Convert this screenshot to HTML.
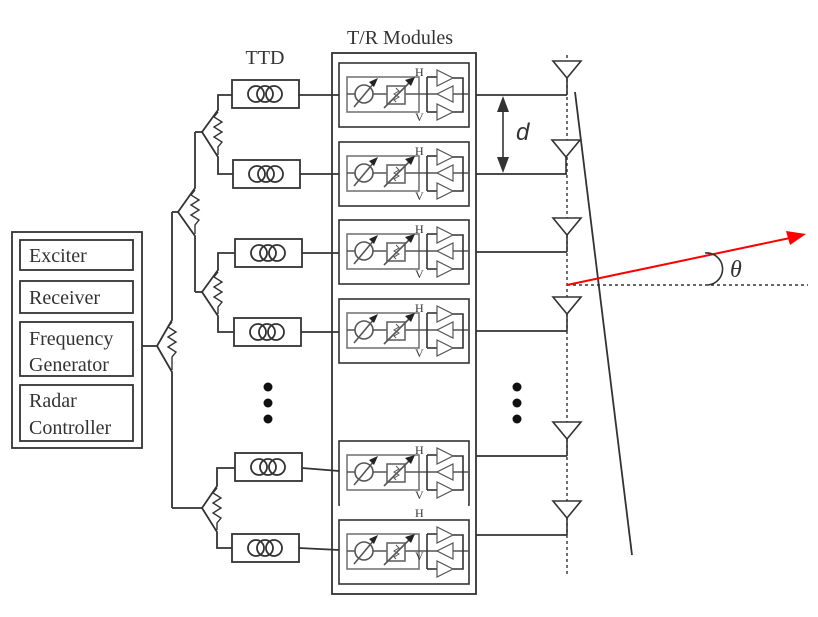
<!DOCTYPE html>
<html><head><meta charset="utf-8"><style>
html,body{margin:0;padding:0;background:#fff;}
svg{display:block;}
text{font-family:"Liberation Serif",serif;fill:#333;}
</style></head><body>
<svg width="818" height="617" viewBox="0 0 818 617" xmlns="http://www.w3.org/2000/svg">
<defs>
<g id="mod" fill="none" stroke="#333" stroke-width="1.6">
  <rect x="0" y="0" width="130" height="64"/>
  <rect x="8" y="14" width="72" height="35" stroke="#777"/>
  <line x1="8" y1="31" x2="130" y2="31" stroke="#555"/>
  <circle cx="25" cy="31" r="9" fill="#fff" stroke="#555"/>
  <line x1="15" y1="44" x2="35" y2="20" stroke="#555"/>
  <polygon points="39,15 30,19 35,24" fill="#222" stroke="none"/>
  <rect x="48" y="23" width="18" height="18" fill="#fff" stroke="#666"/>
  <polyline points="57,25 60,28 55,31 60,34 55,37 57,39" stroke="#555" stroke-width="1"/>
  <line x1="45" y1="45" x2="71" y2="19" stroke="#555"/>
  <polygon points="76,14 66,17 72,23" fill="#222" stroke="none"/>
  <line x1="88" y1="14" x2="88" y2="49"/>
  <line x1="88" y1="14" x2="98" y2="14"/>
  <line x1="88" y1="49" x2="98" y2="49"/>
  <polygon points="98,7 98,23 114,15" fill="#fff" stroke="#555" stroke-width="1.2"/>
  <polygon points="114,23 114,39 98,31" fill="#fff" stroke="#555" stroke-width="1.2"/>
  <polygon points="98,41 98,57 114,49" fill="#fff" stroke="#555" stroke-width="1.2"/>
  <polyline points="114,15 124,15 124,49 114,49"/>
</g>
<g id="ttd" fill="none" stroke="#333" stroke-width="1.8">
  <rect x="0" y="-14" width="67" height="28"/>
  <circle cx="24" cy="0" r="8"/>
  <circle cx="33" cy="0" r="8"/>
  <circle cx="42" cy="0" r="8"/>
</g>
<g id="ant" fill="none" stroke="#333" stroke-width="1.6">
  <polygon points="-14,-34 14,-34 0,-17" fill="#fff"/>
  <line x1="0" y1="-17" x2="0" y2="0"/>
</g>
</defs>

<g stroke="#333" stroke-width="1.8" fill="none">
<rect x="12" y="232" width="130" height="216"/>
<rect x="20" y="240" width="113" height="30"/>
<rect x="20" y="281" width="113" height="32"/>
<rect x="20" y="322" width="113" height="54"/>
<rect x="20" y="385" width="113" height="56"/>
<line x1="142" y1="346" x2="157" y2="346"/>
<polyline points="172,212 172,320 157,346 172,372 172,508"/>
<polyline points="172,322 168,327 176,332 168,337 176,342 168,347 176,352 172,357 172,370" stroke-width="1.4"/>
<line x1="172" y1="212" x2="178" y2="212"/>
<polyline points="195,132 195,188 178,212 195,236 195,292"/>
<polyline points="195,190 191,195 199,200 191,205 199,210 191,215 199,220 195,225 195,234" stroke-width="1.4"/>
<line x1="195" y1="132" x2="202" y2="132"/>
<line x1="195" y1="292" x2="202" y2="292"/>
<line x1="172" y1="508" x2="202" y2="508"/>
<polyline points="232,95 218,95 218,110 202,132 218,157 218,174 233,174"/>
<polyline points="218,112 214,117 222,122 214,127 222,132 214,137 222,142 218,147 218,155" stroke-width="1.4"/>
<polyline points="235,253 218,253 218,270 202,292 218,316 218,332 234,332"/>
<polyline points="218,272 214,277 222,282 214,287 222,292 214,297 222,302 218,307 218,314" stroke-width="1.4"/>
<polyline points="235,468 217,468 217,486 202,508 217,532 217,548 232,548"/>
<polyline points="217,488 213,493 221,498 213,503 221,508 213,513 221,518 217,523 217,530" stroke-width="1.4"/>
<line x1="298" y1="95" x2="339" y2="95"/>
<line x1="300" y1="174" x2="339" y2="174"/>
<line x1="302" y1="253" x2="339" y2="253"/>
<line x1="301" y1="332" x2="339" y2="332"/>
<line x1="302" y1="468" x2="339" y2="471"/>
<line x1="299" y1="548" x2="339" y2="550"/>
<rect x="332" y="53" width="144" height="541"/>
<polyline points="476,95 567,95"/>
<polyline points="476,174 567,174"/>
<polyline points="476,252 567,252"/>
<polyline points="476,331 567,331"/>
<polyline points="476,456 567,456"/>
<polyline points="476,535 567,535"/>
</g>

<use href="#ttd" x="232" y="94"/>
<use href="#ttd" x="233" y="174"/>
<use href="#ttd" x="235" y="253"/>
<use href="#ttd" x="234" y="332"/>
<use href="#ttd" x="235" y="467"/>
<use href="#ttd" x="232" y="548"/>

<use href="#mod" x="339" y="63"/>
<use href="#mod" x="339" y="142"/>
<use href="#mod" x="339" y="220"/>
<use href="#mod" x="339" y="299"/>
<use href="#mod" x="339" y="441"/>
<use href="#mod" x="339" y="520"/>
<rect x="340" y="504" width="128" height="10" fill="#fff"/>
<g font-size="12">
<text x="415" y="76">H</text><text x="415" y="121">V</text>
<text x="415" y="155">H</text><text x="415" y="200">V</text>
<text x="415" y="233">H</text><text x="415" y="278">V</text>
<text x="415" y="312">H</text><text x="415" y="357">V</text>
<text x="415" y="454">H</text><text x="415" y="499">V</text>
<text x="415" y="517">H</text><text x="415" y="560">V</text>
</g>

<line x1="567" y1="55" x2="567" y2="575" stroke="#333" stroke-width="1.4" stroke-dasharray="3,3"/>
<line x1="567" y1="285" x2="808" y2="285" stroke="#333" stroke-width="1.4" stroke-dasharray="3,3"/>
<use href="#ant" x="567" y="95"/>
<use href="#ant" x="566" y="174"/>
<use href="#ant" x="567" y="252"/>
<use href="#ant" x="567" y="331"/>
<use href="#ant" x="567" y="456"/>
<use href="#ant" x="567" y="535"/>
<line x1="575" y1="92" x2="632" y2="555" stroke="#333" stroke-width="1.8"/>

<line x1="503" y1="110" x2="503" y2="160" stroke="#333" stroke-width="1.6"/>
<polygon points="503,96 497,112 509,112" fill="#333"/>
<polygon points="503,173 497,157 509,157" fill="#333"/>
<text x="516" y="140" font-size="24" font-style="italic" style="font-family:'Liberation Sans',sans-serif">d</text>

<line x1="567" y1="285" x2="790" y2="238" stroke="#f00" stroke-width="2"/>
<polygon points="806,234 786,231 790,245" fill="#f00"/>
<path d="M705,253 A16,16 0 0 1 708,285" fill="none" stroke="#333" stroke-width="1.6"/>
<text x="730" y="277" font-size="24" font-style="italic">θ</text>

<g fill="#111">
<circle cx="268" cy="387" r="4.5"/><circle cx="268" cy="403" r="4.5"/><circle cx="268" cy="419" r="4.5"/>
<circle cx="517" cy="387" r="4.5"/><circle cx="517" cy="403" r="4.5"/><circle cx="517" cy="419" r="4.5"/>
</g>

<g font-size="20">
<text x="29" y="262">Exciter</text>
<text x="29" y="304">Receiver</text>
<text x="29" y="345">Frequency</text>
<text x="29" y="371">Generator</text>
<text x="29" y="407">Radar</text>
<text x="29" y="434">Controller</text>
</g>
<text x="265" y="64" font-size="20" text-anchor="middle">TTD</text>
<text x="400" y="44" font-size="20" text-anchor="middle">T/R Modules</text>
</svg>
</body></html>
